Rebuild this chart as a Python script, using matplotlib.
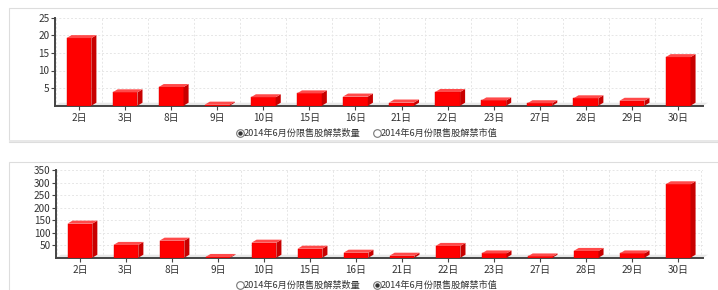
import matplotlib
matplotlib.use("Agg")
import matplotlib.pyplot as plt
from matplotlib.patches import Polygon, Rectangle
from matplotlib.lines import Line2D
import numpy as np

plt.rcParams['font.family'] = ['Noto Sans CJK SC', 'DejaVu Sans']

days = ['2日', '3日', '8日', '9日', '10日', '15日', '16日',
        '21日', '22日', '23日', '27日', '28日', '29日', '30日']
shares = [19.2, 3.8, 5.3, 0.3, 2.4, 3.5, 2.6, 0.9, 3.9, 1.5, 0.7, 2.1, 1.4, 13.8]
market_value = [136, 51, 68, 3, 60, 36, 20, 8, 47, 17, 5, 27, 17, 293]

legend_labels = ['2014年6月份限售股解禁数量', '2014年6月份限售股解禁市值']

W, H = 718, 290
FRONT = '#ff0000'
SIDE = '#c80000'
TOP = '#ff4a4a'
TXT = '#333333'


def bars_3d(ax, values, ymax, ytick_step):
    """Рисует красные столбцы с псевдо-3D гранями"""
    x = np.arange(len(values))
    ax.set_xlim(-0.52, len(values) - 0.46)
    ax.set_ylim(0, ymax)

    # глубина в единицах данных (примерно 5px вправо, 3px вверх)
    bbox = ax.get_position()
    ax_w = bbox.width * W
    ax_h = bbox.height * H
    xr = ax.get_xlim()[1] - ax.get_xlim()[0]
    dx = 5.0 / ax_w * xr
    dy = 3.0 / ax_h * ymax
    bw = 0.54

    # пол
    x0, x1 = ax.get_xlim()
    ax.add_patch(Polygon([(x0, 0), (x1, 0), (x1 + dx, dy), (x0 + dx, dy)],
                         closed=True, fc='#e8e8e8', ec='none', zorder=1, clip_on=False))

    ax.bar(x, values, width=bw, color=FRONT, edgecolor='#d80000', linewidth=0.3, zorder=3)
    for xi, v in zip(x, values):
        l, r = xi - bw / 2, xi + bw / 2
        ax.add_patch(Polygon([(r, 0), (r + dx, dy), (r + dx, v + dy), (r, v)],
                             closed=True, fc=SIDE, ec='none', zorder=3))
        ax.add_patch(Polygon([(l, v), (r, v), (r + dx, v + dy), (l + dx, v + dy)],
                             closed=True, fc=TOP, ec='none', zorder=3))

    ax.set_xticks(x)
    ax.set_xticklabels(days)
    ax.set_xticks(np.arange(len(values) + 1) - 0.5, minor=True)
    ax.set_yticks(np.arange(ytick_step, ymax + 1, ytick_step))

    ax.grid(True, which='minor', axis='x', color='#e6e6e6', linestyle=(0, (2, 2)), linewidth=0.7)
    ax.grid(True, which='major', axis='y', color='#e6e6e6', linestyle=(0, (2, 2)), linewidth=0.7)
    ax.set_axisbelow(True)

    for s in ['top', 'right']:
        ax.spines[s].set_visible(False)
    for s in ['left', 'bottom']:
        ax.spines[s].set_color('#444444')
        ax.spines[s].set_linewidth(1.4)
    ax.tick_params(axis='x', which='major', length=3, color='#444444', labelsize=7.2, labelcolor=TXT, pad=2)
    ax.tick_params(axis='x', which='minor', length=0)
    ax.tick_params(axis='y', length=3, color='#444444', labelsize=7.2, labelcolor=TXT, pad=1)


def radio_legend(fig, y_px, selected):
    """Подпись с радиокнопками под графиком"""
    positions = [240, 377]
    for i, (xp, lab) in enumerate(zip(positions, legend_labels)):
        fx, fy = xp / W, 1 - y_px / H
        fig.add_artist(Line2D([fx], [fy], marker='o', markersize=5.5, mfc='white',
                              mec='#777777', mew=0.8, transform=fig.transFigure))
        if i == selected:
            fig.add_artist(Line2D([fx], [fy], marker='o', markersize=2.2, mfc='#333333',
                                  mec='#333333', transform=fig.transFigure))
        fig.text((xp + 4) / W, fy, lab, fontsize=6.6, color=TXT, va='center', ha='left')


fig = plt.figure(figsize=(W / 100, H / 100), dpi=100)

# рамки панелей
fig.add_artist(Rectangle((9 / W, 1 - 142 / H), 712 / W, 134 / H, transform=fig.transFigure,
                         fc='white', ec='#dddddd', lw=0.8, zorder=0))
fig.add_artist(Rectangle((9 / W, 1 - 142 / H), 712 / W, 2 / H, transform=fig.transFigure,
                         fc='#e8e8e8', ec='none', zorder=0))
fig.add_artist(Rectangle((9 / W, -0.05), 712 / W, 1 - 162 / H + 0.05, transform=fig.transFigure,
                         fc='white', ec='#dddddd', lw=0.8, zorder=0))

ax1 = fig.add_axes([55 / W, 1 - 105.7 / H, 648 / W, 88 / H])
ax1.patch.set_alpha(0)
bars_3d(ax1, shares, 25, 5)
radio_legend(fig, 133, 0)

ax2 = fig.add_axes([56 / W, 1 - 257.7 / H, 647 / W, 87.7 / H])
ax2.patch.set_alpha(0)
bars_3d(ax2, market_value, 350, 50)
radio_legend(fig, 285, 1)

fig.savefig('out.png', dpi=100)
